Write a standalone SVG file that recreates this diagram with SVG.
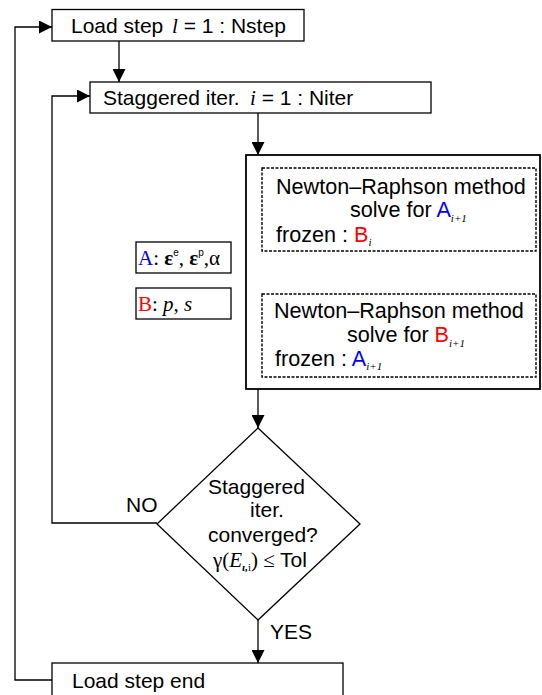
<svg xmlns="http://www.w3.org/2000/svg" width="542" height="695" viewBox="0 0 542 695">
<style>
.box{fill:#fff;stroke:#000;stroke-width:1.3}
.big{fill:#fff;stroke:#000;stroke-width:1.8}
.dash{fill:#fff;stroke:#000;stroke-width:1.4;stroke-dasharray:3 1.5}
.ln{fill:none;stroke:#000;stroke-width:1.3}
.t{font-family:"Liberation Sans",Arial,sans-serif;font-size:21px;fill:#000}
.nr{font-size:21.6px}
.m{font-family:"Liberation Serif","Times New Roman",serif}
.sub{font-family:"Liberation Serif","Times New Roman",serif;font-style:italic;font-size:11px}
.blue{fill:#0000ff}
.red{fill:#ff0000}
</style>
<defs>
<marker id="ah" markerUnits="userSpaceOnUse" markerWidth="13" markerHeight="13" refX="13" refY="6.5" orient="auto">
<path d="M0,0 L13,6.5 L0,13 z" fill="#000"/>
</marker>
</defs>
<g id="connectors">
<line class="ln" x1="119" y1="41" x2="119" y2="82" marker-end="url(#ah)"/>
<line class="ln" x1="258" y1="113" x2="258" y2="155" marker-end="url(#ah)"/>
<line class="ln" x1="395" y1="251" x2="395" y2="294" marker-end="url(#ah)"/>
<line class="ln" x1="258" y1="389" x2="258" y2="428" marker-end="url(#ah)"/>
<line class="ln" x1="258" y1="620" x2="258" y2="663" marker-end="url(#ah)"/>
<polyline class="ln" points="157,523 52,523 52,96 90,96" marker-end="url(#ah)"/>
<polyline class="ln" points="52,680 15,680 15,27 52,27" marker-end="url(#ah)"/>
<text class="t" x="126" y="512">NO</text>
<text class="t" x="270" y="639">YES</text>
</g>
<g id="load-step">
<rect class="box" x="52" y="9.5" width="252" height="31.5"/>
<text class="t" x="71" y="33">Load step <tspan class="m" font-style="italic" x="172">l</tspan> = 1 : Nstep</text>
</g>
<g id="staggered-iter">
<rect class="box" x="90" y="82" width="341" height="31"/>
<text class="t" x="103" y="105">Staggered iter.<tspan class="m" font-style="italic" x="250">i</tspan> = 1 : Niter</text>
</g>
<g id="solver-block">
<rect class="big" x="246" y="155" width="294" height="234"/>
</g>
<g id="nr-a">
<rect class="dash" x="262" y="168" width="274" height="83"/>
<text class="t nr" x="276" y="194">Newton–Raphson method</text>
<text class="t nr" x="350" y="217">solve for <tspan class="blue">A</tspan><tspan class="sub" dy="5">i+1</tspan></text>
<text class="t nr" x="276" y="242">frozen : <tspan class="red">B</tspan><tspan class="sub" dy="4">i</tspan></text>
</g>
<g id="nr-b">
<rect class="dash" x="262" y="294" width="274" height="83"/>
<text class="t nr" x="274" y="318">Newton–Raphson method</text>
<text class="t nr" x="347" y="342">solve for <tspan class="red">B</tspan><tspan class="sub" dy="5">i+1</tspan></text>
<text class="t nr" x="275" y="366">frozen : <tspan class="blue">A</tspan><tspan class="sub" dy="4">i+1</tspan></text>
</g>
<g id="legend-a">
<rect class="box" x="136" y="242" width="95" height="31"/>
<text class="m" font-size="21" x="138" y="265"><tspan class="blue">A</tspan>: <tspan font-weight="bold">ε</tspan><tspan font-family="Liberation Sans,sans-serif" font-size="10" dy="-9">e</tspan><tspan dy="9">, </tspan><tspan font-weight="bold">ε</tspan><tspan font-family="Liberation Sans,sans-serif" font-size="10" dy="-9">p</tspan><tspan dy="9">,α</tspan></text>
</g>
<g id="legend-b">
<rect class="box" x="136" y="288" width="95" height="31"/>
<text class="m" font-size="21" x="138" y="311"><tspan class="red">B</tspan>: <tspan font-style="italic">p, s</tspan></text>
</g>
<g id="decision">
<polygon class="box" points="258,428 360,524 258,620 157,524"/>
<text class="t" x="208" y="494">Staggered</text>
<text class="t" x="250" y="517">iter.</text>
<text class="t" x="208" y="542">converged?</text>
<text class="t" x="213" y="567"><tspan class="m">γ(</tspan><tspan class="m" font-style="italic">E</tspan><tspan class="m" font-style="italic" font-weight="bold" font-size="11" dy="4">ι,</tspan><tspan class="m" font-size="11">i</tspan><tspan class="m" dy="-4">) ≤ </tspan>Tol</text>
</g>
<g id="load-step-end">
<rect class="box" x="52" y="663" width="291" height="36"/>
<text class="t" x="72" y="688">Load step end</text>
</g>
</svg>
